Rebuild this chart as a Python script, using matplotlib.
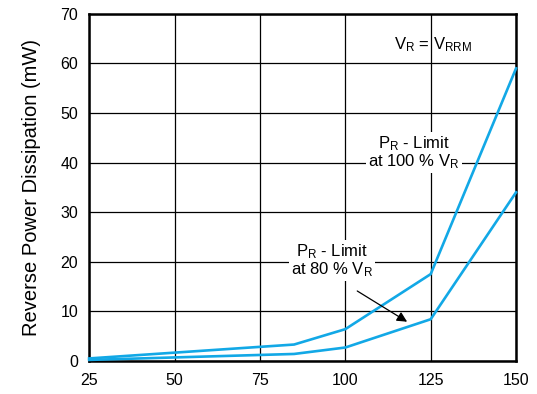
import matplotlib.pyplot as plt

plt.rcParams['font.family'] = ['Liberation Sans', 'DejaVu Sans']

# Temperatura de unión (°C) y disipación inversa (mW)
temperatura = [25, 85, 100, 125, 150]
pr_100 = [0.5, 3.3, 6.4, 17.5, 59]
pr_80 = [0.2, 1.4, 2.7, 8.4, 34]
ticks_x = [25, 50, 75, 100, 125, 150]
ticks_y = [0, 10, 20, 30, 40, 50, 60, 70]

color_linea = '#12a8e6'

fig = plt.figure(figsize=(5.37, 3.94), dpi=100)
ax = fig.add_axes([0.166, 0.084, 0.795, 0.881])

ax.plot(temperatura, pr_100, color=color_linea, lw=1.9, zorder=3, clip_on=False)
ax.plot(temperatura, pr_80, color=color_linea, lw=1.9, zorder=3, clip_on=False)

ax.set_xlim(25, 150)
ax.set_ylim(0, 70)
ax.set_xticks(ticks_x)
ax.set_yticks(ticks_y)
ax.tick_params(length=0, labelsize=11.5)
ax.tick_params(axis='x', pad=9)
ax.tick_params(axis='y', pad=8)
ax.grid(True, color='black', lw=0.9)
for s in ax.spines.values():
    s.set_linewidth(1.8)

ax.set_ylabel('Reverse Power Dissipation (mW)', fontsize=14.5, labelpad=14)

caja = dict(facecolor='white', edgecolor='none', pad=1.5)

# Etiquetas de las curvas
ax.text(125.7, 63.7, '$\\mathregular{V_R}$ = $\\mathregular{V_{RRM}}$', fontsize=12,
        ha='center', va='center', zorder=4)
ax.text(120.1, 42, '$\\mathregular{P_R}$ - Limit\nat 100 % $\\mathregular{V_R}$',
        fontsize=12, ha='center', va='center', bbox=caja, zorder=4, linespacing=1.0)
ax.text(96.1, 20.2, '$\\mathregular{P_R}$ - Limit\nat 80 % $\\mathregular{V_R}$',
        fontsize=12, ha='center', va='center', bbox=caja, zorder=4, linespacing=1.0)

ax.annotate('', xy=(118.1, 7.9), xytext=(103.5, 14.1),
            arrowprops=dict(arrowstyle='-|>', color='black', lw=0.9,
                            mutation_scale=15, shrinkA=0, shrinkB=0), zorder=4)

plt.savefig('out.png', dpi=100)
